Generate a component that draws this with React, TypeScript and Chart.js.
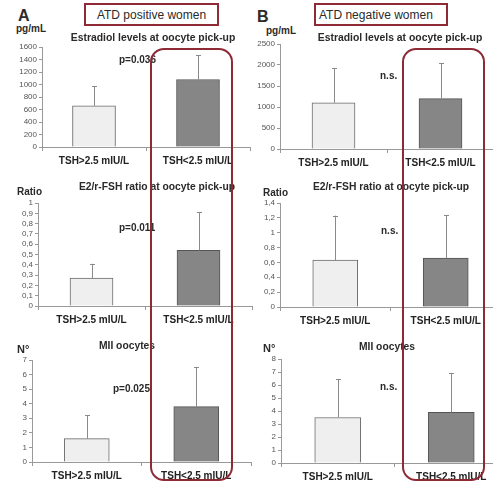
import React, { useEffect, useRef } from 'react';
import { Chart, registerables } from 'chart.js';

Chart.register(...registerables);

// ---------- DATA ----------
const categories = ['TSH>2.5 mIU/L', 'TSH<2.5 mIU/L'];

const estradiolPosMean = [660, 1080];
const estradiolPosSD = [310, 390];
const estradiolNegMean = [1100, 1200];
const estradiolNegSD = [830, 850];

const ratioPosMean = [0.27, 0.54];
const ratioPosSD = [0.14, 0.37];
const ratioNegMean = [0.63, 0.66];
const ratioNegSD = [0.6, 0.58];

const miiPosMean = [1.6, 3.8];
const miiPosSD = [1.6, 2.7];
const miiNegMean = [3.5, 3.9];
const miiNegSD = [2.95, 3.0];

// y-axis ranges [max, step]
const estradiolPosAxis = [1600, 200];
const estradiolNegAxis = [2500, 500];
const ratioPosAxis = [1, 0.1];
const ratioNegAxis = [1.4, 0.2];
const miiPosAxis = [7, 1];
const miiNegAxis = [8, 1];

const FONT = '"Liberation Sans", Arial, sans-serif';
const RED = '#8e2a35';
const TEXT = '#2a2a2a';

const errorBarPlugin = {
  id: 'errorBars',
  afterDatasetsDraw(chart: any) {
    const ctx = chart.ctx;
    const ds = chart.data.datasets[0];
    const meta = chart.getDatasetMeta(0);
    const y = chart.scales.y;
    ctx.save();
    ctx.strokeStyle = '#8a8a8a';
    ctx.lineWidth = 1;
    meta.data.forEach((bar: any, i: number) => {
      const v = ds.data[i];
      const e = ds.errors[i];
      const yTop = y.getPixelForValue(v + e);
      const x = Math.round(bar.x) + 0.5;
      ctx.beginPath();
      ctx.moveTo(x, bar.y);
      ctx.lineTo(x, yTop);
      ctx.moveTo(x - 2.5, Math.round(yTop) + 0.5);
      ctx.lineTo(x + 2.5, Math.round(yTop) + 0.5);
      ctx.stroke();
    });
    ctx.restore();
  },
};

type Panel = {
  mean: number[];
  sd: number[];
  axis: number[];
  comma: boolean;
  x0: number;
  x1: number;
  y0: number;
  y1: number;
  bw: number;
};

const PADL = 40;
const PADT = 8;
const PADB = 24;
const PADR = 2;

function BarPanel({ p }: { p: Panel }) {
  const ref = useRef<HTMLCanvasElement>(null);
  const left = p.x0 - PADL;
  const top = p.y0 - PADT;
  const width = p.x1 - p.x0 + PADL + PADR;
  const height = p.y1 - p.y0 + PADT + PADB;

  useEffect(() => {
    if (!ref.current) return;
    const chart = new Chart(ref.current, {
      type: 'bar',
      data: {
        labels: categories,
        datasets: [
          {
            data: p.mean,
            errors: p.sd,
            backgroundColor: ['#efefef', '#868686'],
            borderColor: ['#6a6a6a', '#555555'],
            borderWidth: 1,
            barThickness: p.bw,
          } as any,
        ],
      },
      options: {
        responsive: false,
        maintainAspectRatio: false,
        animation: false,
        layout: { autoPadding: false, padding: { left: 0, top: PADT, right: PADR, bottom: 0 } },
        plugins: { legend: { display: false }, tooltip: { enabled: false } },
        scales: {
          x: {
            grid: { offset: true, drawOnChartArea: false, tickLength: 4, color: '#999' },
            border: { color: '#999' },
            ticks: {
              font: { family: FONT, size: 10, weight: 'bold' },
              color: '#222',
              padding: 4,
              maxRotation: 0,
              autoSkip: false,
            },
            afterFit: (s: any) => {
              s.height = PADB;
            },
          },
          y: {
            min: 0,
            max: p.axis[0],
            grid: { drawOnChartArea: false, tickLength: 3, color: '#999' },
            border: { color: '#999' },
            ticks: {
              stepSize: p.axis[1],
              autoSkip: false,
              font: { family: FONT, size: 8 },
              color: '#555',
              padding: 2,
              callback: (v: any) => {
                const s = String(Number(Number(v).toFixed(2)));
                return p.comma ? s.replace('.', ',') : s;
              },
            },
            afterFit: (s: any) => {
              s.width = PADL;
            },
          },
        },
      } as any,
      plugins: [errorBarPlugin],
    });
    return () => chart.destroy();
  }, []);

  return (
    <canvas
      ref={ref}
      width={width}
      height={height}
      style={{ position: 'absolute', left, top, width, height, display: 'block' }}
    />
  );
}

function Txt({
  x,
  y,
  text,
  size = 10.5,
  bold = true,
  align = 'left',
}: {
  x: number;
  y: number;
  text: string;
  size?: number;
  bold?: boolean;
  align?: 'left' | 'center';
}) {
  return (
    <div
      style={{
        position: 'absolute',
        left: x,
        top: y - 0.5 * size,
        fontFamily: FONT,
        fontSize: size,
        lineHeight: `${size}px`,
        fontWeight: bold ? 700 : 400,
        color: TEXT,
        whiteSpace: 'nowrap',
        transform: align === 'center' ? 'translateX(-50%)' : undefined,
      }}
    >
      {text}
    </div>
  );
}

const panels: Panel[] = [
  { mean: estradiolPosMean, sd: estradiolPosSD, axis: estradiolPosAxis, comma: false, x0: 42, x1: 250, y0: 47, y1: 147, bw: 43 },
  { mean: estradiolNegMean, sd: estradiolNegSD, axis: estradiolNegAxis, comma: false, x0: 280, x1: 494, y0: 44, y1: 149, bw: 43 },
  { mean: ratioPosMean, sd: ratioPosSD, axis: ratioPosAxis, comma: true, x0: 38, x1: 252, y0: 203, y1: 306, bw: 43 },
  { mean: ratioNegMean, sd: ratioNegSD, axis: ratioNegAxis, comma: true, x0: 280, x1: 501, y0: 203, y1: 307, bw: 45 },
  { mean: miiPosMean, sd: miiPosSD, axis: miiPosAxis, comma: false, x0: 32, x1: 251, y0: 360, y1: 462, bw: 45 },
  { mean: miiNegMean, sd: miiNegSD, axis: miiNegAxis, comma: false, x0: 281, x1: 508, y0: 359, y1: 463, bw: 46 },
];

export default function App() {
  return (
    <div
      style={{
        position: 'absolute',
        left: 0,
        top: 0,
        width: 493,
        height: 484,
        overflow: 'hidden',
        background: '#fff',
      }}
    >
      {panels.map((p, i) => (
        <BarPanel key={i} p={p} />
      ))}

      {/* panel letters */}
      <Txt x={18} y={16} text="A" size={16} />
      <Txt x={257} y={17} text="B" size={16} />

      {/* group header boxes */}
      <div
        style={{
          position: 'absolute',
          left: 84,
          top: 3,
          width: 135,
          height: 23,
          boxSizing: 'border-box',
          border: `2px solid ${RED}`,
          display: 'flex',
          alignItems: 'center',
          justifyContent: 'center',
          fontFamily: FONT,
          fontSize: 12,
          color: TEXT,
          whiteSpace: 'nowrap',
        }}
      >
        ATD positive women
      </div>
      <div
        style={{
          position: 'absolute',
          left: 314,
          top: 3,
          width: 134,
          height: 23,
          boxSizing: 'border-box',
          border: `2px solid ${RED}`,
          display: 'flex',
          alignItems: 'center',
          paddingLeft: 3,
          fontFamily: FONT,
          fontSize: 12,
          color: TEXT,
          whiteSpace: 'nowrap',
        }}
      >
        ATD negative women
      </div>

      {/* units */}
      <Txt x={16} y={29} text="pg/mL" size={10} />
      <Txt x={266} y={31} text="pg/mL" size={10} />
      <Txt x={17} y={192} text="Ratio" size={10} />
      <Txt x={263} y={193} text="Ratio" size={10} />
      <Txt x={17} y={349} text="N°" size={11} />
      <Txt x={263} y={348} text="N°" size={11} />

      {/* titles */}
      <Txt x={153} y={38} text="Estradiol levels at oocyte pick-up" align="center" size={10.4} />
      <Txt x={400} y={38} text="Estradiol levels at oocyte pick-up" align="center" size={10.4} />
      <Txt x={157} y={187} text="E2/r-FSH ratio at oocyte pick-up" align="center" size={10.3} />
      <Txt x={391} y={187} text="E2/r-FSH ratio at oocyte pick-up" align="center" size={10.3} />
      <Txt x={127} y={346} text="MII oocytes" align="center" size={10.3} />
      <Txt x={387} y={347} text="MII oocytes" align="center" size={10.3} />

      {/* significance */}
      <Txt x={119} y={60} text="p=0.036" size={10} />
      <Txt x={119} y={228} text="p=0.011" size={10} />
      <Txt x={113} y={389} text="p=0.025" size={10} />
      <Txt x={380} y={76} text="n.s." size={10} />
      <Txt x={381} y={231} text="n.s." size={10} />
      <Txt x={380} y={387} text="n.s." size={10} />

      {/* rounded highlight boxes */}
      <div
        style={{
          position: 'absolute',
          left: 150,
          top: 48,
          width: 83,
          height: 433,
          boxSizing: 'border-box',
          border: `2px solid ${RED}`,
          borderRadius: 14,
          pointerEvents: 'none',
        }}
      />
      <div
        style={{
          position: 'absolute',
          left: 402,
          top: 48,
          width: 83,
          height: 433,
          boxSizing: 'border-box',
          border: `2px solid ${RED}`,
          borderRadius: 14,
          pointerEvents: 'none',
        }}
      />
    </div>
  );
}
